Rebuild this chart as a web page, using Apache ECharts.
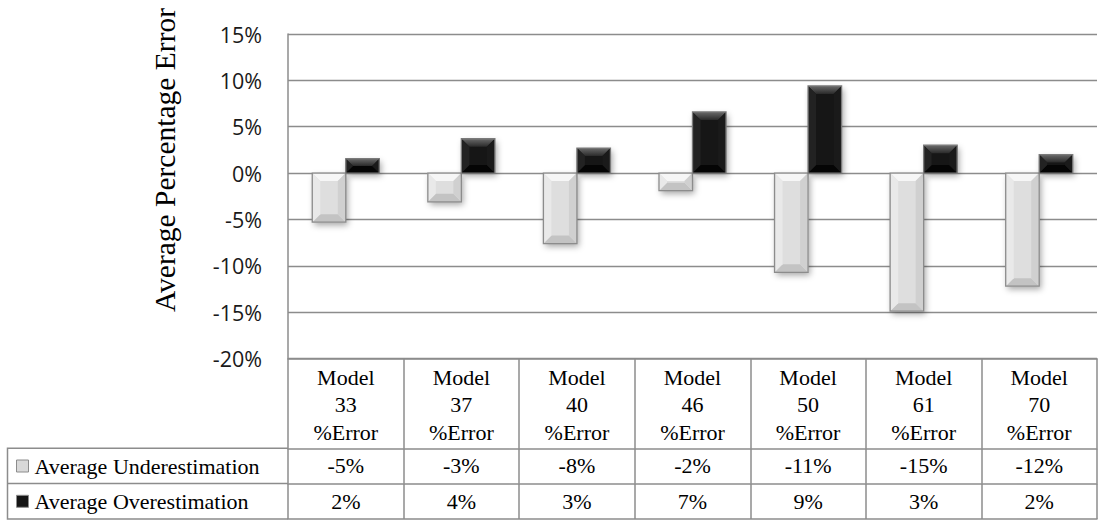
<!DOCTYPE html>
<html>
<head>
<meta charset="utf-8">
<script src="https://cdn.jsdelivr.net/npm/echarts@6/dist/echarts.min.js"></script>
<style>
  html, body { margin: 0; padding: 0; background: #ffffff; }
  #chart { width: 1099px; height: 520px; }
</style>
</head>
<body>
<div id="chart"></div>
<script>
// Model numbers shown along the category axis
const models = ['33', '37', '40', '46', '50', '61', '70'];
// Average percentage error per model (in percent)
const underestimation = [-5.3, -3.1, -7.6, -1.9, -10.7, -14.9, -12.2];
const overestimation = [1.55, 3.7, 2.7, 6.6, 9.4, 3.0, 2.0];
// Value axis ticks
const yMin = -20;
const yMax = 15;
const yStep = 5;

const seriesNames = ['Average Underestimation', 'Average Overestimation'];

const GRID_LINE = '#8c8c8c';
const SERIF = 'Liberation Serif';
const SANS = 'Open Sans';
const BAR_RATIO = 0.29;
const BEVEL = 8;

// Table rows: header height, then one row per series
const HEADER_H = 89.8;
const ROW_H = 35.3;

const pct = v => Math.round(v) + '%';

const palettes = {
  light: {
    face: '#dedede', top: '#f6f6f6', bottom: '#c3c3c3',
    left: '#e9e9e9', right: '#d0d0d0', border: '#8c8c8c'
  },
  dark: {
    face: '#121212',
    top: { type: 'linear', x: 0, y: 0, x2: 0, y2: 1,
           colorStops: [{ offset: 0, color: '#6a6a6a' }, { offset: 1, color: '#2a2a2a' }] },
    bottom: '#050505', left: '#222222', right: '#1a1a1a', border: '#7a7a7a'
  }
};

// Bevelled bar: face rectangle plus four edge facets, placed left or right of the category centre
function bevelBar(pal, side) {
  return function (params, api) {
    const cat = api.value(0);
    const val = api.value(1);
    const base = api.coord([cat, 0]);
    const end = api.coord([cat, val]);
    const band = api.size([1, 0])[0];
    const w = band * BAR_RATIO;
    const x = side < 0 ? base[0] - w : base[0];
    const y = Math.min(base[1], end[1]);
    const h = Math.abs(base[1] - end[1]);
    const b = Math.min(BEVEL, h / 2, w / 2);
    const poly = (pts, fill) => ({ type: 'polygon', shape: { points: pts }, style: { fill: fill }, silent: true });
    return {
      type: 'group',
      children: [
        { type: 'rect', shape: { x: x, y: y, width: w, height: h },
          style: { fill: pal.face, shadowBlur: 6, shadowOffsetX: 2, shadowOffsetY: 3,
                   shadowColor: 'rgba(0,0,0,0.35)' } },
        poly([[x, y], [x + w, y], [x + w - b, y + b], [x + b, y + b]], pal.top),
        poly([[x, y + h], [x + w, y + h], [x + w - b, y + h - b], [x + b, y + h - b]], pal.bottom),
        poly([[x, y], [x + b, y + b], [x + b, y + h - b], [x, y + h]], pal.left),
        poly([[x + w, y], [x + w - b, y + b], [x + w - b, y + h - b], [x + w, y + h]], pal.right),
        { type: 'rect', shape: { x: x, y: y, width: w, height: h },
          style: { fill: 'none', stroke: pal.border, lineWidth: 1.3 } }
      ]
    };
  };
}

const lineStyle = { color: GRID_LINE, width: 1.5 };

// Category axes used only as table rules: the axis line is the row border, ticks are cell borders
function tableAxis(offset, rowHeight) {
  return {
    type: 'category',
    data: models,
    position: 'bottom',
    offset: offset,
    axisLine: { show: true, onZero: false, lineStyle: lineStyle },
    axisTick: { show: rowHeight > 0, interval: 0, length: rowHeight, lineStyle: lineStyle },
    axisLabel: { show: false },
    splitLine: { show: false }
  };
}

const chart = echarts.init(document.getElementById('chart'), null, { renderer: 'svg' });

chart.setOption({
  animation: false,
  backgroundColor: '#ffffff',
  grid: { left: 288, right: 2, top: 34, bottom: 161.5, containLabel: false },
  legend: {
    orient: 'vertical',
    left: 16,
    top: 455,
    padding: 0,
    itemWidth: 12,
    itemHeight: 12,
    itemGap: 13.3,
    icon: 'rect',
    selectedMode: false,
    data: seriesNames,
    itemStyle: { borderColor: '#8c8c8c', borderWidth: 1 },
    textStyle: { fontFamily: SERIF, fontSize: 22, color: '#000', lineHeight: 22, padding: [0, 0, 0, 1] }
  },
  xAxis: [
    tableAxis(0, HEADER_H),
    tableAxis(HEADER_H, ROW_H),
    tableAxis(HEADER_H + ROW_H, ROW_H),
    tableAxis(HEADER_H + 2 * ROW_H, 0)
  ],
  yAxis: {
    type: 'value',
    min: yMin,
    max: yMax,
    interval: yStep,
    axisLine: { show: true, lineStyle: lineStyle },
    axisTick: { show: false },
    axisLabel: {
      margin: 26, formatter: '{value}%',
      fontFamily: SANS, fontSize: 21.5, color: '#1a1a1a'
    },
    splitLine: { show: true, lineStyle: { color: GRID_LINE, width: 1.4 } }
  },
  series: [
    {
      name: seriesNames[0],
      type: 'custom',
      renderItem: bevelBar(palettes.light, -1),
      itemStyle: { color: '#d9d9d9' },
      encode: { x: 0, y: 1 },
      data: underestimation.map((v, i) => [i, v]),
      z: 3
    },
    {
      name: seriesNames[1],
      type: 'custom',
      renderItem: bevelBar(palettes.dark, 1),
      itemStyle: { color: '#151515' },
      encode: { x: 0, y: 1 },
      data: overestimation.map((v, i) => [i, v]),
      z: 3
    }
  ]
});

// Data-table text: column centres come from the category axis, rows from the bottom of the plot
const tableTop = chart.convertToPixel({ yAxisIndex: 0 }, yMin);
const tableLeft = chart.convertToPixel({ xAxisIndex: 0 }, 0) - chart.getModel().getComponent('xAxis', 0).axis.getBandWidth() / 2;
const row1Y = tableTop + HEADER_H;
const row2Y = row1Y + ROW_H;
const row3Y = row2Y + ROW_H;
const serifText = (x, y, text, extra) => ({
  type: 'text', x: x, y: y, silent: true,
  style: Object.assign({ text: text, fontFamily: SERIF, fontSize: 22, fill: '#000',
                         align: 'center', verticalAlign: 'middle' }, extra || {})
});

const tableTexts = [];
models.forEach((m, i) => {
  const cx = chart.convertToPixel({ xAxisIndex: 0 }, i);
  tableTexts.push(serifText(cx, tableTop + 5, 'Model\n' + m + '\n%Error',
                            { verticalAlign: 'top', lineHeight: 27.5 }));
  tableTexts.push(serifText(cx, row1Y + ROW_H / 2, pct(underestimation[i])));
  tableTexts.push(serifText(cx, row2Y + ROW_H / 2, pct(overestimation[i])));
});

chart.setOption({
  graphic: [
    {
      type: 'text',
      x: 165, y: 160,
      rotation: Math.PI / 2,
      style: {
        text: 'Average Percentage Error',
        fontFamily: SERIF, fontSize: 29.5, fill: '#000',
        align: 'center', verticalAlign: 'middle'
      }
    },
    {
      type: 'polyline',
      shape: { points: [[tableLeft, row1Y], [7.5, row1Y], [7.5, row3Y], [tableLeft, row3Y]] },
      style: { stroke: GRID_LINE, lineWidth: 1.5, fill: null }
    },
    {
      type: 'line',
      shape: { x1: 7.5, y1: row2Y, x2: tableLeft, y2: row2Y },
      style: { stroke: GRID_LINE, lineWidth: 1.5 }
    }
  ].concat(tableTexts)
});
</script>
</body>
</html>
